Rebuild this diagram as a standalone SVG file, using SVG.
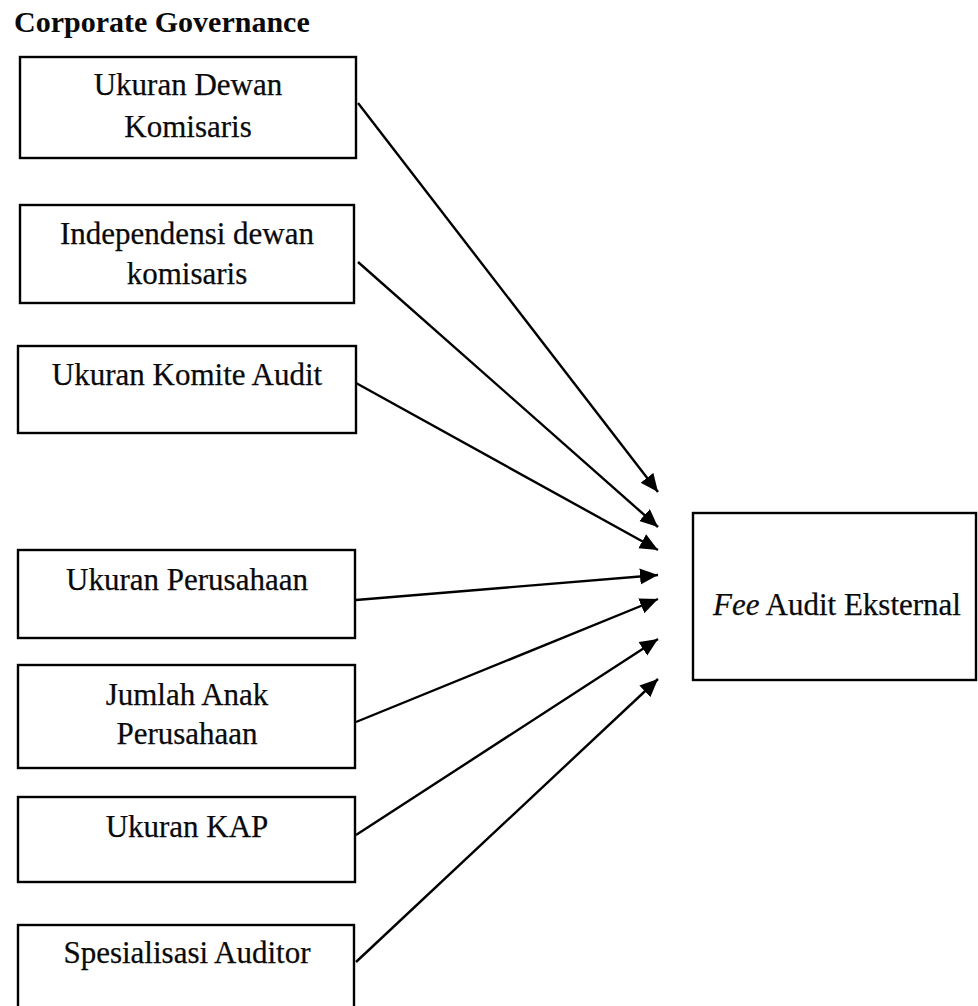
<svg xmlns="http://www.w3.org/2000/svg" width="978" height="1006" viewBox="0 0 978 1006">
  <style>
    .box { fill: #ffffff; stroke: #000000; stroke-width: 2.4; }
    .lbl { font-family: "Liberation Serif", "Times New Roman", serif; font-size: 31px; fill: #0a0a0a; text-anchor: middle; stroke: #0a0a0a; stroke-width: 0.25; }
    .title { font-family: "Liberation Serif", "Times New Roman", serif; font-size: 30px; font-weight: bold; fill: #0a0a0a; }
    .conn { stroke: #000000; stroke-width: 2.4; fill: none; marker-end: url(#arrow); }
  </style>
  <defs>
    <marker id="arrow" markerUnits="userSpaceOnUse" markerWidth="20" markerHeight="18" refX="18" refY="8" orient="auto">
      <path d="M0,0 L18,8 L0,16 z" fill="#000000"/>
    </marker>
  </defs>
  <rect width="978" height="1006" fill="#ffffff"/>
  <text class="title" x="14" y="32">Corporate Governance</text>

  <g id="n1">
    <rect class="box" x="20" y="57" width="336" height="101"/>
    <text class="lbl" x="188" y="95">Ukuran Dewan</text>
    <text class="lbl" x="188" y="137">Komisaris</text>
  </g>
  <g id="n2">
    <rect class="box" x="20" y="205" width="334" height="98"/>
    <text class="lbl" x="187" y="244">Independensi dewan</text>
    <text class="lbl" x="187" y="284">komisaris</text>
  </g>
  <g id="n3">
    <rect class="box" x="18" y="346" width="338" height="87"/>
    <text class="lbl" x="187" y="385">Ukuran Komite Audit</text>
  </g>
  <g id="n4">
    <rect class="box" x="18" y="550" width="337" height="88"/>
    <text class="lbl" x="187" y="590">Ukuran Perusahaan</text>
  </g>
  <g id="n5">
    <rect class="box" x="18" y="665" width="337" height="103"/>
    <text class="lbl" x="187" y="705">Jumlah Anak</text>
    <text class="lbl" x="187" y="744">Perusahaan</text>
  </g>
  <g id="n6">
    <rect class="box" x="18" y="797" width="337" height="85"/>
    <text class="lbl" x="187" y="837">Ukuran KAP</text>
  </g>
  <g id="n7">
    <rect class="box" x="18" y="925" width="336" height="95"/>
    <text class="lbl" x="187" y="963">Spesialisasi Auditor</text>
  </g>
  <g id="target">
    <rect class="box" x="693" y="513" width="283" height="167"/>
    <text class="lbl" x="837" y="615"><tspan font-style="italic">Fee</tspan> Audit Eksternal</text>
  </g>

  <g id="connectors">
    <line class="conn" x1="358" y1="103" x2="658" y2="492"/>
    <line class="conn" x1="358" y1="262" x2="658" y2="527"/>
    <line class="conn" x1="356" y1="383" x2="658" y2="550"/>
    <line class="conn" x1="356" y1="600" x2="658" y2="575"/>
    <line class="conn" x1="356" y1="722" x2="658" y2="599"/>
    <line class="conn" x1="356" y1="835" x2="658" y2="639"/>
    <line class="conn" x1="356" y1="962" x2="658" y2="679"/>
  </g>
</svg>
